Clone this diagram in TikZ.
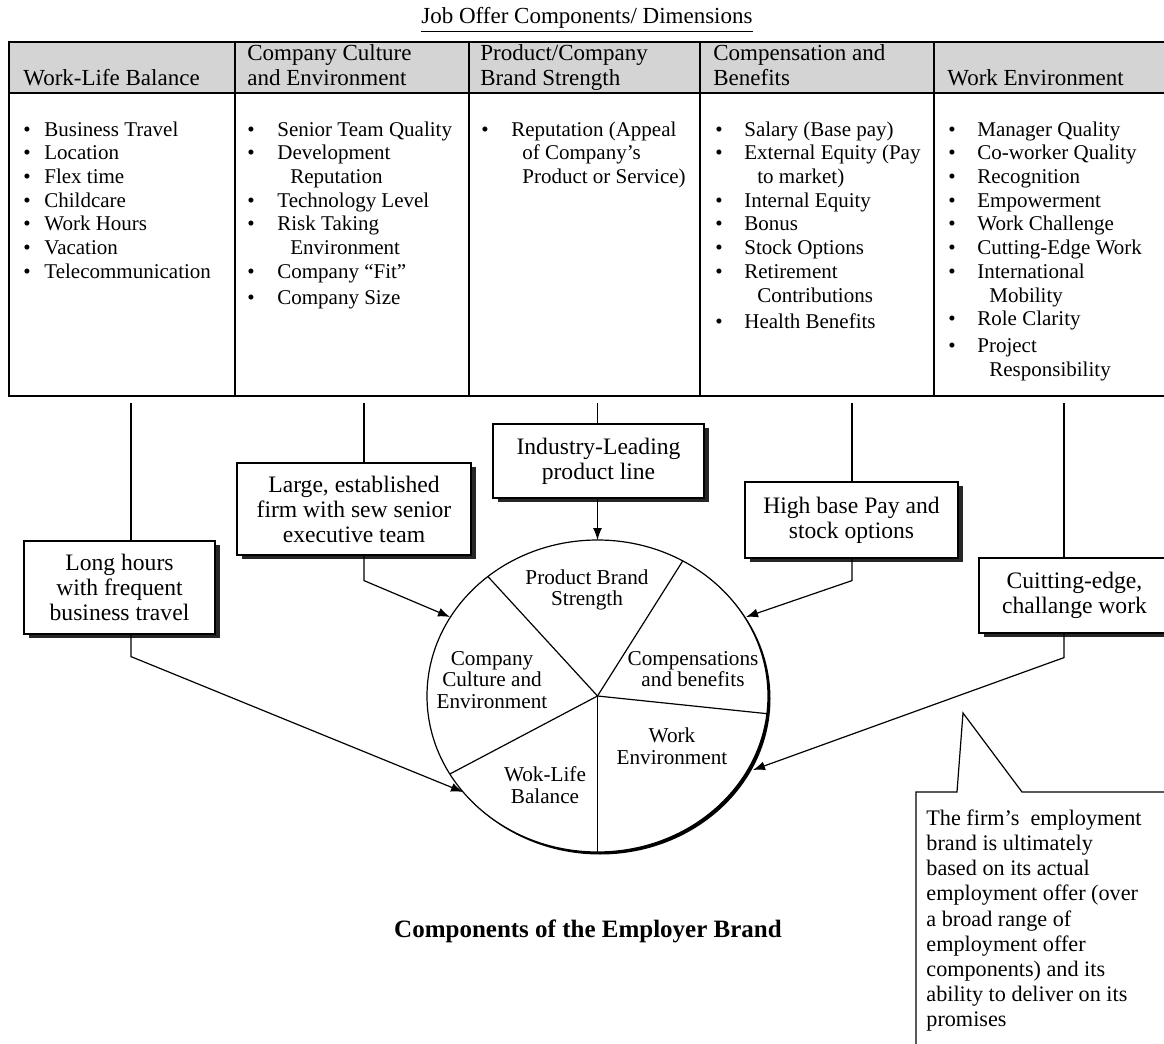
\documentclass[tikz,border=0pt]{standalone}
\usepackage{fontspec}
\setmainfont{Liberation Serif}
\usetikzlibrary{arrows.meta,shadows,calc}
\begin{document}
\begin{tikzpicture}[x=0.5pt,y=-0.5pt,
  tbl/.style={line width=0.9pt},
  hdr/.style={anchor=south west, align=left, inner sep=0pt, font=\fontsize{11.5}{12.5}\selectfont},
  lst/.style={anchor=north west, align=left, inner sep=0pt, font=\fontsize{10.5}{11.85}\selectfont},
  obox/.style={draw, fill=white, line width=0.6pt, align=center, inner sep=0pt,
    font=\fontsize{11.8}{12.5}\selectfont,
    drop shadow={shadow xshift=2.5pt, shadow yshift=-2pt, fill=black!85, opacity=1}},
  pie/.style={align=center, inner sep=0pt, font=\fontsize{10.6}{10.8}\selectfont},
  conn/.style={line width=0.6pt},
  arr/.style={conn, -{Latex[length=6pt,width=4.5pt]}},
]
\useasboundingbox (0,0) rectangle (1164,1044);

% title
\node[anchor=base, inner sep=0pt, font=\fontsize{11.5}{13}\selectfont] (title) at (587,23.3)
  {\underline{Job Offer Components/ Dimensions}};

% table
\fill[black!17] (9,42) rectangle (1172,93);
\draw[tbl] (9,42) rectangle (1172,396);
\draw[tbl] (9,93) -- (1172,93);
\foreach \x in {235,469,700,934} \draw[tbl] (\x,42) -- (\x,396);

\node[hdr] (h1) at (23,93) {Work-Life Balance\strut};
\node[hdr] (h2) at (247,93) {Company Culture\\and Environment\strut};
\node[hdr] (h3) at (480,93) {Product/Company\\Brand Strength\strut};
\node[hdr] (h4) at (713,93) {Compensation and\\Benefits\strut};
\node[hdr] (h5) at (947,93) {Work Environment\strut};

\node[lst] (l1) at (23,119.2) {\strut\makebox[10.5pt][l]{\textbullet}Business Travel\\
  \makebox[10.5pt][l]{\textbullet}Location\\
  \makebox[10.5pt][l]{\textbullet}Flex time\\
  \makebox[10.5pt][l]{\textbullet}Childcare\\
  \makebox[10.5pt][l]{\textbullet}Work Hours\\
  \makebox[10.5pt][l]{\textbullet}Vacation\\
  \makebox[10.5pt][l]{\textbullet}Telecommunication};

\node[lst] (l2) at (247,119.2) {\strut\makebox[15pt][l]{\textbullet}Senior Team Quality\\
  \makebox[15pt][l]{\textbullet}Development\\
  \hspace*{21.5pt}Reputation\\
  \makebox[15pt][l]{\textbullet}Technology Level\\
  \makebox[15pt][l]{\textbullet}Risk Taking\\
  \hspace*{21.5pt}Environment\\
  \makebox[15pt][l]{\textbullet}Company ``Fit''\\[1pt]
  \makebox[15pt][l]{\textbullet}Company Size};

\node[lst] (l3) at (481,119.2) {\strut\makebox[15pt][l]{\textbullet}Reputation (Appeal\\
  \hspace*{20.5pt}of Company's\\
  \hspace*{20.5pt}Product or Service)};

\node[lst] (l4) at (715,119.2) {\strut\makebox[14.5pt][l]{\textbullet}Salary (Base pay)\\
  \makebox[14.5pt][l]{\textbullet}External Equity (Pay\\
  \hspace*{21pt}to market)\\
  \makebox[14.5pt][l]{\textbullet}Internal Equity\\
  \makebox[14.5pt][l]{\textbullet}Bonus\\
  \makebox[14.5pt][l]{\textbullet}Stock Options\\
  \makebox[14.5pt][l]{\textbullet}Retirement\\
  \hspace*{21pt}Contributions\\[1.5pt]
  \makebox[14.5pt][l]{\textbullet}Health Benefits};

\node[lst] (l5) at (948,119.2) {\strut\makebox[14.5pt][l]{\textbullet}Manager Quality\\
  \makebox[14.5pt][l]{\textbullet}Co-worker Quality\\
  \makebox[14.5pt][l]{\textbullet}Recognition\\
  \makebox[14.5pt][l]{\textbullet}Empowerment\\
  \makebox[14.5pt][l]{\textbullet}Work Challenge\\
  \makebox[14.5pt][l]{\textbullet}Cutting-Edge Work\\
  \makebox[14.5pt][l]{\textbullet}International\\
  \hspace*{20.5pt}Mobility\\
  \makebox[14.5pt][l]{\textbullet}Role Clarity\\[1.5pt]
  \makebox[14.5pt][l]{\textbullet}Project\\
  \hspace*{20.5pt}Responsibility};

% pie
\coordinate (c) at (597.5,696);
\fill[black] (600,698.5) ellipse [x radius=85.25pt, y radius=78pt];
\draw[conn, fill=white] (c) ellipse [x radius=85.25pt, y radius=78pt];
\foreach \a in {60,130,210,270,353.5}
  \draw[conn] (c) -- ($(c)+(\a:85.25pt and 78pt)$);

\node[pie] (p1) at (587,590) {Product Brand\\Strength};
\node[pie] (p2) at (492,680) {Company\\Culture and\\Environment};
\node[pie] (p3) at (693,669) {Compensations\\and benefits};
\node[pie] (p4) at (672,746) {Work\\Environment};
\node[pie] (p5) at (545,785) {Wok-Life\\Balance};

% example boxes
\node[obox, minimum width=95.5pt, minimum height=46.5pt] (b1) at (119.5,587.5)
  {Long hours\\with frequent\\business travel};
\node[obox, minimum width=117pt, minimum height=46pt] (b2) at (354,509)
  {Large, established\\firm with sew senior\\executive team};
\node[obox, minimum width=105.5pt, minimum height=37pt] (b3) at (598.5,461)
  {Industry-Leading\\product line};
\node[obox, minimum width=106.5pt, minimum height=38pt] (b4) at (851.5,520)
  {High base Pay and\\stock options};
\node[obox, minimum width=95.5pt, minimum height=37.5pt] (b5) at (1074.5,595.5)
  {Cuitting-edge,\\challange work};

% connector anchors
\coordinate (t1) at (131,403);
\coordinate (t2) at (364,403);
\coordinate (t3) at (597.5,403);
\coordinate (t4) at (852,403);
\coordinate (t5) at (1064,403);
\coordinate (a1) at (463,792);
\coordinate (a2) at (450,617);
\coordinate (a3) at (597.5,540);
\coordinate (a4) at (746,617);
\coordinate (a5) at (753,770);

\draw[conn] (t1) -- (t1 |- b1.north);
\draw[arr] (t1 |- b1.south) -- ++(0,22) -- (a1);
\draw[conn] (t2) -- (t2 |- b2.north);
\draw[arr] (t2 |- b2.south) -- ++(0,25) -- (a2);
\draw[conn] (t3) -- (t3 |- b3.north);
\draw[arr] (t3 |- b3.south) -- (a3);
\draw[conn] (t4) -- (t4 |- b4.north);
\draw[arr] (t4 |- b4.south) -- ++(0,22) -- (a4);
\draw[conn] (t5) -- (t5 |- b5.north);
\draw[arr] (t5 |- b5.south) -- ++(0,24) -- (a5);

% callout
\draw[conn, fill=white] (916,1050) -- (916,792) -- (957,792) -- (963,713) -- (1022,792)
  -- (1172,792) -- (1172,1050);
\node[anchor=north west, align=left, inner sep=0pt, font=\fontsize{11.1}{12.6}\selectfont]
  (note) at (926,807.3)
  {\strut The firm's \ employment\\brand is ultimately\\based on its actual\\
   employment offer (over\\a broad range of\\employment offer\\
   components) and its\\ability to deliver on its\\promises};

% caption
\node[anchor=base, inner sep=0pt, font=\bfseries\fontsize{12.5}{14}\selectfont] (cap)
  at (588,937.7) {Components of the Employer Brand};
\end{tikzpicture}
\end{document}
